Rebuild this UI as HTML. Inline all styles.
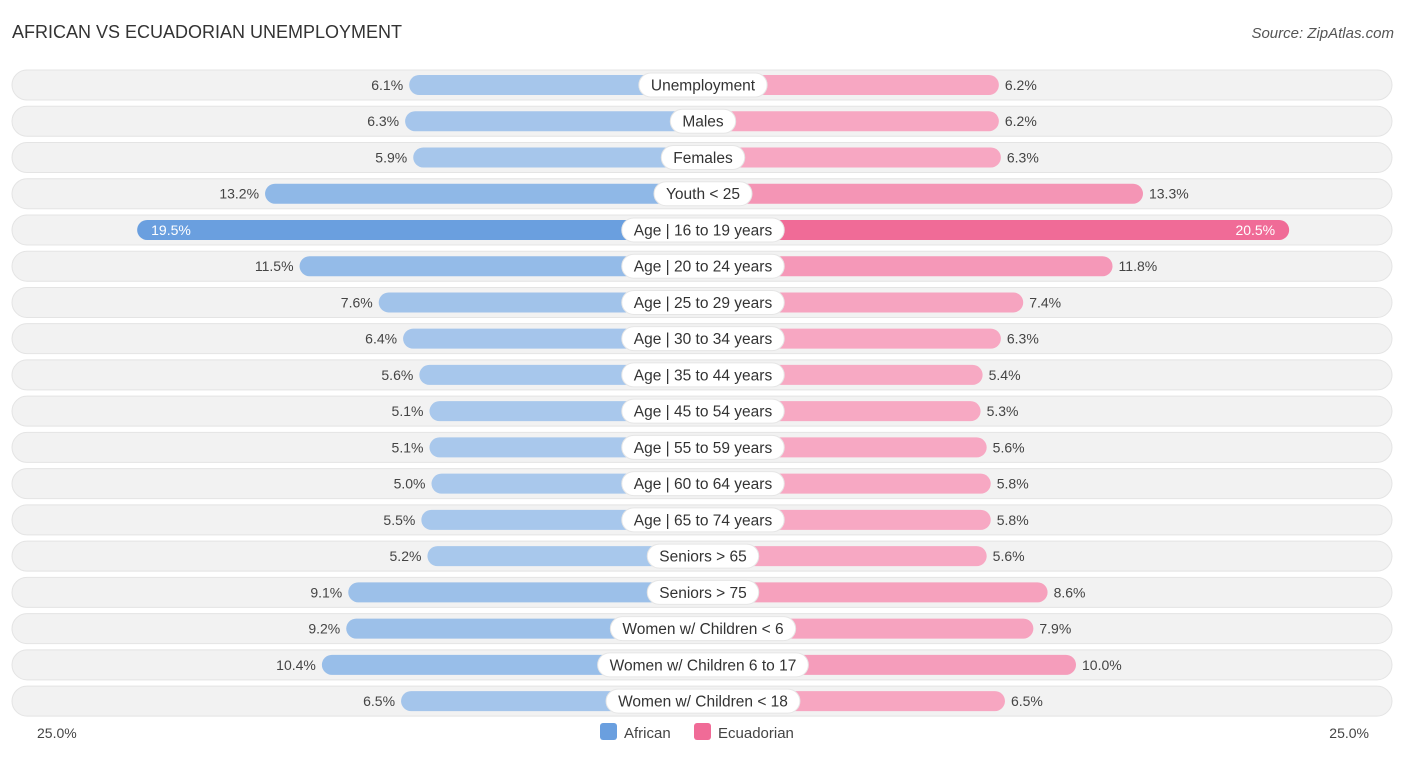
<!DOCTYPE html>
<html><head><meta charset="utf-8"><style>
body{margin:0;background:#fff;font-family:"Liberation Sans",sans-serif}
</style></head><body>
<svg id="c" width="1406" height="757" xmlns="http://www.w3.org/2000/svg">
<text x="12" y="38" font-size="18" fill="#333">AFRICAN VS ECUADORIAN UNEMPLOYMENT</text>
<text x="1394" y="38" font-size="15" fill="#555" font-style="italic" text-anchor="end">Source: ZipAtlas.com</text>
<g id="rows"></g>
<text x="37" y="738" font-size="14" fill="#444">25.0%</text>
<text x="1369" y="738" font-size="14" fill="#444" text-anchor="end">25.0%</text>
<g><rect x="600" y="723" width="17" height="17" rx="3" fill="#6a9fdf"/><text x="624" y="738" font-size="15" fill="#444">African</text></g>
<g><rect x="694" y="723" width="17" height="17" rx="3" fill="#f06b97"/><text x="718" y="738" font-size="15" fill="#444">Ecuadorian</text></g>
</svg>
<script>
const categories=["Unemployment","Males","Females","Youth < 25","Age | 16 to 19 years","Age | 20 to 24 years","Age | 25 to 29 years","Age | 30 to 34 years","Age | 35 to 44 years","Age | 45 to 54 years","Age | 55 to 59 years","Age | 60 to 64 years","Age | 65 to 74 years","Seniors > 65","Seniors > 75","Women w/ Children < 6","Women w/ Children 6 to 17","Women w/ Children < 18"];
const african=[6.1,6.3,5.9,13.2,19.5,11.5,7.6,6.4,5.6,5.1,5.1,5.0,5.5,5.2,9.1,9.2,10.4,6.5];
const ecuadorian=[6.2,6.2,6.3,13.3,20.5,11.8,7.4,6.3,5.4,5.3,5.6,5.8,5.8,5.6,8.6,7.9,10.0,6.5];
const NS="http://www.w3.org/2000/svg";
const cx=703,y0=85,dy=36.24;
function w(v){return 170+20.3*v;}
function mix(a,b,t){return "rgb("+a.map((x,i)=>Math.round(x+(b[i]-x)*t)).join(",")+")";}
const maxV=Math.max(...african,...ecuadorian);
const g=document.getElementById("rows");
function mk(tag,attrs,parent){const e=document.createElementNS(NS,tag);for(const k in attrs)e.setAttribute(k,attrs[k]);parent.appendChild(e);return e;}
categories.forEach((c,i)=>{
 const y=y0+i*dy;
 const row=mk("g",{},g);
 
 
 mk("rect",{x:12,y:y-15,width:1380,height:30,rx:15,fill:"#f2f2f2",stroke:"#e4e4e4","stroke-width":1},row);
 const a=african[i],e=ecuadorian[i];
 const ta=Math.min(1,(a-5)/(maxV-5)),te=Math.min(1,(e-5)/(maxV-5));
 const hiA=a===Math.max(...african),hiE=e===Math.max(...ecuadorian);
 const ba=mk("rect",{x:cx-w(a),y:y-10,width:w(a),height:20,rx:10,fill:hiA?"#6a9fdf":mix([169,200,236],[120,170,226],ta)},row);
 
 
 const be=mk("rect",{x:cx,y:y-10,width:w(e),height:20,rx:10,fill:hiE?"#f06b97":mix([247,170,196],[242,130,168],te)},row);
 
 
 let t;
 if(hiA){t=mk("text",{x:cx-w(a)+14,y:y+5,"font-size":14,fill:"#fff"},row);}
 else{t=mk("text",{x:cx-w(a)-6,y:y+5,"font-size":14,fill:"#444","text-anchor":"end"},row);}
 t.textContent=a.toFixed(1)+"%";
 
 
 if(hiE){t=mk("text",{x:cx+w(e)-14,y:y+5,"font-size":14,fill:"#fff","text-anchor":"end"},row);}
 else{t=mk("text",{x:cx+w(e)+6,y:y+5,"font-size":14,fill:"#444"},row);}
 t.textContent=e.toFixed(1)+"%";
 
 
 const lbl=mk("text",{x:cx,y:y+5.5,"font-size":15.5,fill:"#333","text-anchor":"middle"},row);
 lbl.textContent=c;
 const lw=lbl.getComputedTextLength()+24;
 const pill=mk("rect",{x:cx-lw/2,y:y-12,width:lw,height:24,rx:12,fill:"#fff",stroke:"#e6e6e6"},row);
 row.insertBefore(pill,lbl);
 
 
});
</script>
</body></html>
